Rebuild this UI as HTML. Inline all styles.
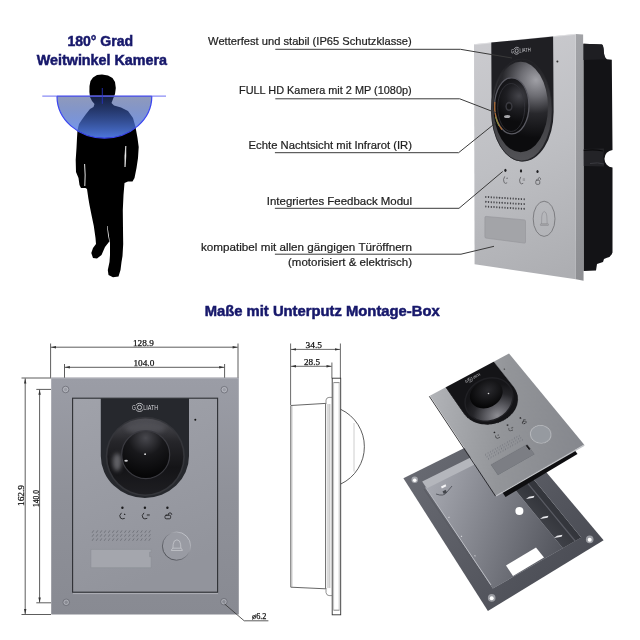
<!DOCTYPE html>
<html><head><meta charset="utf-8"><style>
html,body{margin:0;padding:0;background:#fff;width:640px;height:640px;overflow:hidden;position:relative}
svg{display:block;will-change:transform}
text{font-family:"Liberation Sans",sans-serif}
.lbl{font-size:11.4px;fill:#1e1e1e;stroke:#1e1e1e;stroke-width:0.22px}
.ttl{font-size:14px;font-weight:bold;fill:#17186b;stroke:#17186b;stroke-width:0.5px}
.dimt text{font-family:"Liberation Serif",serif;font-size:9.2px;fill:#111;stroke:#111;stroke-width:0.25px}
</style></head><body>
<svg width="640" height="640" viewBox="0 0 640 640">
<defs>
<linearGradient id="semi" x1="0" y1="96" x2="0" y2="138" gradientUnits="userSpaceOnUse">
<stop offset="0" stop-color="#2a3f80" stop-opacity="0.52"/>
<stop offset="1" stop-color="#5a8aff" stop-opacity="0.86"/>
</linearGradient>
<linearGradient id="face1" x1="474" y1="40" x2="576" y2="270" gradientUnits="userSpaceOnUse">
<stop offset="0" stop-color="#cbcbcf"/>
<stop offset="0.5" stop-color="#bebfc3"/>
<stop offset="1" stop-color="#adaeb2"/>
</linearGradient>
<linearGradient id="side1" x1="0" y1="34" x2="0" y2="280" gradientUnits="userSpaceOnUse">
<stop offset="0" stop-color="#a2a3a7"/>
<stop offset="1" stop-color="#8e8f93"/>
</linearGradient>
<radialGradient id="dome1" cx="536" cy="80" r="58" gradientUnits="userSpaceOnUse">
<stop offset="0" stop-color="#a0a0a6"/>
<stop offset="0.28" stop-color="#6c6c72"/>
<stop offset="0.58" stop-color="#28282c"/>
<stop offset="1" stop-color="#0c0c0e"/>
</radialGradient>
<linearGradient id="ring1" x1="0" y1="60" x2="0" y2="161" gradientUnits="userSpaceOnUse">
<stop offset="0" stop-color="#1f1f23"/>
<stop offset="0.35" stop-color="#36363a"/>
<stop offset="1" stop-color="#525256"/>
</linearGradient>
<radialGradient id="lens1" cx="519" cy="96" r="26" gradientUnits="userSpaceOnUse">
<stop offset="0" stop-color="#44444a"/>
<stop offset="0.5" stop-color="#1e1e22"/>
<stop offset="1" stop-color="#0c0c0e"/>
</radialGradient>
<linearGradient id="plate2" x1="0" y1="378" x2="0" y2="615" gradientUnits="userSpaceOnUse">
<stop offset="0" stop-color="#9b9da6"/>
<stop offset="0.5" stop-color="#8f9199"/>
<stop offset="1" stop-color="#888a92"/>
</linearGradient>
<linearGradient id="panel2" x1="0" y1="0" x2="0.3" y2="1">
<stop offset="0" stop-color="#a0a2aa"/>
<stop offset="1" stop-color="#92949c"/>
</linearGradient>
<linearGradient id="dome2v" x1="0" y1="0" x2="0" y2="1">
<stop offset="0" stop-color="#4e4e54"/>
<stop offset="0.3" stop-color="#26262a"/>
<stop offset="0.65" stop-color="#141417"/>
<stop offset="1" stop-color="#1e1e22"/>
</linearGradient>
<filter id="blur2" x="-50%" y="-50%" width="200%" height="200%"><feGaussianBlur stdDeviation="2"/></filter>
<radialGradient id="dome2" cx="0.35" cy="0.6" r="0.6">
<stop offset="0" stop-color="#3c3c42"/>
<stop offset="0.45" stop-color="#26262b"/>
<stop offset="0.8" stop-color="#101013"/>
<stop offset="1" stop-color="#0c0c0e"/>
</radialGradient>
<radialGradient id="lens2" cx="0.5" cy="0.15" r="0.8">
<stop offset="0" stop-color="#48484e"/>
<stop offset="0.45" stop-color="#18181b"/>
<stop offset="1" stop-color="#060607"/>
</radialGradient>
<linearGradient id="face3" x1="0" y1="0" x2="1" y2="1">
<stop offset="0" stop-color="#b2b4b8"/>
<stop offset="0.5" stop-color="#939599"/>
<stop offset="1" stop-color="#85878d"/>
</linearGradient>
<radialGradient id="skirt3" cx="0.5" cy="0.95" r="0.75">
<stop offset="0" stop-color="#8c8c92"/>
<stop offset="0.35" stop-color="#5a5a60"/>
<stop offset="0.7" stop-color="#26262a"/>
<stop offset="1" stop-color="#151518"/>
</radialGradient>
<radialGradient id="lens3" cx="0.6" cy="0.4" r="0.6">
<stop offset="0" stop-color="#2a2a2e"/>
<stop offset="1" stop-color="#060607"/>
</radialGradient>
<linearGradient id="bellring" x1="0.15" y1="0.85" x2="0.85" y2="0.15">
<stop offset="0" stop-color="#4a4c52"/>
<stop offset="0.5" stop-color="#7a7c84"/>
<stop offset="1" stop-color="#c4c6cc"/>
</linearGradient>
<g id="logo">
<text x="59.3" y="11.5" font-size="6.6" style="fill:#d4d4d8" textLength="3.9" lengthAdjust="spacingAndGlyphs">G</text>
<g fill="none" stroke="#d4d4d8" stroke-width="0.85">
<circle cx="66.9" cy="9.2" r="2.1"/>
<path d="M63.4 7 A4.2 4.2 0 0 1 70.4 7"/>
<path d="M63.4 11.4 A4.2 4.2 0 0 0 70.4 11.4"/>
</g>
<text x="70.6" y="11.5" font-size="6.6" style="fill:#d4d4d8" textLength="15" lengthAdjust="spacingAndGlyphs">LIATH</text>
</g>
<g id="icons"><g fill="none" style="stroke:var(--ic,#1e1e20)" stroke-width="0.85" stroke-linecap="round">
<path d="M48.6 114.9 Q45.9 117.4 47.9 119.9 Q49.4 121.3 51.8 120.3"/>
<path d="M71.1 114.9 Q68.4 117.4 70.4 119.9 Q71.9 121.3 74.3 120.3"/>
<path d="M74.6 116.3 h2.2 M74.6 117.4 h2.2" stroke-width="0.5"/>
<rect x="92.4" y="117" width="5.6" height="3.6" rx="1.2"/>
<path d="M95.4 117 Q95.4 114.6 97.4 114.6 Q99.2 114.8 99.2 116.2"/>
</g>
<path d="M51.2 116.9 l0.9 -1.9 l0.9 1.9 Z" style="fill:var(--ic,#1e1e20)"/></g>
<g id="devface">
<path d="M28.2 0 L116.4 0 L116.4 57.7 A44.1 42 0 0 1 28.2 57.7 Z" style="fill:var(--hous,#26282d)"/>
<use href="#logo"/>
<circle cx="122.7" cy="21.6" r="1" fill="#111"/>
<g fill="#1a1a1c"><circle cx="49.8" cy="109.5" r="1.2"/><circle cx="72.3" cy="109.5" r="1.2"/><circle cx="94.8" cy="109.5" r="1.2"/></g>
<use href="#icons"/>
<g id="spk2"><path d="M19.5 134.6 l1.6 -2.4" stroke="#6e7078" stroke-width="0.9"/><path d="M23.6 134.6 l1.6 -2.4" stroke="#6e7078" stroke-width="0.9"/><path d="M27.6 134.6 l1.6 -2.4" stroke="#6e7078" stroke-width="0.9"/><path d="M31.6 134.6 l1.6 -2.4" stroke="#6e7078" stroke-width="0.9"/><path d="M35.7 134.6 l1.6 -2.4" stroke="#6e7078" stroke-width="0.9"/><path d="M39.8 134.6 l1.6 -2.4" stroke="#6e7078" stroke-width="0.9"/><path d="M43.8 134.6 l1.6 -2.4" stroke="#6e7078" stroke-width="0.9"/><path d="M47.8 134.6 l1.6 -2.4" stroke="#6e7078" stroke-width="0.9"/><path d="M51.9 134.6 l1.6 -2.4" stroke="#6e7078" stroke-width="0.9"/><path d="M55.9 134.6 l1.6 -2.4" stroke="#6e7078" stroke-width="0.9"/><path d="M60.0 134.6 l1.6 -2.4" stroke="#6e7078" stroke-width="0.9"/><path d="M64.0 134.6 l1.6 -2.4" stroke="#6e7078" stroke-width="0.9"/><path d="M68.1 134.6 l1.6 -2.4" stroke="#6e7078" stroke-width="0.9"/><path d="M72.2 134.6 l1.6 -2.4" stroke="#6e7078" stroke-width="0.9"/><path d="M76.2 134.6 l1.6 -2.4" stroke="#6e7078" stroke-width="0.9"/><path d="M19.5 138.5 l1.6 -2.4" stroke="#6e7078" stroke-width="0.9"/><path d="M23.6 138.5 l1.6 -2.4" stroke="#6e7078" stroke-width="0.9"/><path d="M27.6 138.5 l1.6 -2.4" stroke="#6e7078" stroke-width="0.9"/><path d="M31.6 138.5 l1.6 -2.4" stroke="#6e7078" stroke-width="0.9"/><path d="M35.7 138.5 l1.6 -2.4" stroke="#6e7078" stroke-width="0.9"/><path d="M39.8 138.5 l1.6 -2.4" stroke="#6e7078" stroke-width="0.9"/><path d="M43.8 138.5 l1.6 -2.4" stroke="#6e7078" stroke-width="0.9"/><path d="M47.8 138.5 l1.6 -2.4" stroke="#6e7078" stroke-width="0.9"/><path d="M51.9 138.5 l1.6 -2.4" stroke="#6e7078" stroke-width="0.9"/><path d="M55.9 138.5 l1.6 -2.4" stroke="#6e7078" stroke-width="0.9"/><path d="M60.0 138.5 l1.6 -2.4" stroke="#6e7078" stroke-width="0.9"/><path d="M64.0 138.5 l1.6 -2.4" stroke="#6e7078" stroke-width="0.9"/><path d="M68.1 138.5 l1.6 -2.4" stroke="#6e7078" stroke-width="0.9"/><path d="M72.2 138.5 l1.6 -2.4" stroke="#6e7078" stroke-width="0.9"/><path d="M76.2 138.5 l1.6 -2.4" stroke="#6e7078" stroke-width="0.9"/><path d="M19.5 142.6 l1.6 -2.4" stroke="#6e7078" stroke-width="0.9"/><path d="M23.6 142.6 l1.6 -2.4" stroke="#6e7078" stroke-width="0.9"/><path d="M27.6 142.6 l1.6 -2.4" stroke="#6e7078" stroke-width="0.9"/><path d="M31.6 142.6 l1.6 -2.4" stroke="#6e7078" stroke-width="0.9"/><path d="M35.7 142.6 l1.6 -2.4" stroke="#6e7078" stroke-width="0.9"/><path d="M39.8 142.6 l1.6 -2.4" stroke="#6e7078" stroke-width="0.9"/><path d="M43.8 142.6 l1.6 -2.4" stroke="#6e7078" stroke-width="0.9"/><path d="M47.8 142.6 l1.6 -2.4" stroke="#6e7078" stroke-width="0.9"/><path d="M51.9 142.6 l1.6 -2.4" stroke="#6e7078" stroke-width="0.9"/><path d="M55.9 142.6 l1.6 -2.4" stroke="#6e7078" stroke-width="0.9"/><path d="M60.0 142.6 l1.6 -2.4" stroke="#6e7078" stroke-width="0.9"/><path d="M64.0 142.6 l1.6 -2.4" stroke="#6e7078" stroke-width="0.9"/><path d="M68.1 142.6 l1.6 -2.4" stroke="#6e7078" stroke-width="0.9"/><path d="M72.2 142.6 l1.6 -2.4" stroke="#6e7078" stroke-width="0.9"/><path d="M76.2 142.6 l1.6 -2.4" stroke="#6e7078" stroke-width="0.9"/></g>
<path d="M18.3 151.2 H78.6 V154 H77 V158.5 H78.6 V169.5 H18.3 Z" fill="#a4a6ad" stroke="#8c8e95" stroke-width="0.6"/>
<circle cx="103.9" cy="147.9" r="14.1" fill="#999ba3" stroke="url(#bellring)" stroke-width="0.9"/>
<path d="M100.3 150 L100.6 146 Q101 141.8 104.3 141.6 Q107.6 141.8 108 146 L108.3 150 Q109.6 150.6 109.8 152.3 L98.8 152.3 Q99 150.6 100.3 150 Z M100.3 150 L108.3 150" fill="none" stroke="#cfd1d5" stroke-width="0.65"/>
</g>
</defs>

<!-- ===== Title top-left ===== -->
<text class="ttl" x="100.3" y="46" text-anchor="middle" textLength="65.7" lengthAdjust="spacingAndGlyphs">180° Grad</text>
<text class="ttl" x="101.9" y="64.6" text-anchor="middle" textLength="130.2" lengthAdjust="spacingAndGlyphs">Weitwinkel Kamera</text>

<!-- ===== Silhouette ===== -->
<path id="person" fill="#000" d="M102 74.5 L108 75.5 L112.5 78 L115 82 L115.8 88 L115 94 L113 99 L111.5 103 L114 105.5 L121 107.5 L128 111 L133 118 L135.5 127 L137.5 138 L138.7 147 L138 158 L136.5 168 L134.5 178 L132.5 181.5 L128 181.5 L124.5 183 L123.5 195 L122.8 210 L123 230 L123.2 244 L122.5 256 L121.5 262 L120.5 270 L118.5 276.5 L113 277.3 L108.5 275 L107.8 270 L109.5 262 L110 255 L110 243 L108.5 233 L107.5 226 L107 226 L108 235 L109.3 241.5 L105 247 L101.5 255 L97 258.5 L93 258 L91.3 253 L93 248 L96 244 L95.5 238 L93.8 226 L91.5 215 L89.5 205 L88.3 198 L87 189 L85.5 188 L81 188 L79.5 185 L78.5 178 L76 172 L75.7 160 L76.5 148 L77 138 L77.5 130 L79 124 L82 119.5 L86 114 L90 109 L93.5 107 L94.5 104 L92 101 L90 97 L89.4 92 L89.5 86 L90.5 81 L93 77.5 L97 75 Z"/>

<path d="M84.6 164 Q85.6 175 84.8 186" fill="none" stroke="#fff" stroke-width="0.9"/>
<path d="M125.8 146 Q124.3 156 125 167 Q126.3 156 125.8 146 Z" fill="#fff" stroke="#fff" stroke-width="0.6"/>
<!-- semicircle -->
<line x1="42.3" y1="96.1" x2="166" y2="96.1" stroke="#8a8cf5" stroke-width="1.4"/>
<path d="M57 96.2 A47.4 41.9 0 0 0 151.8 96.2 Z" fill="url(#semi)"/>
<path d="M57 96.2 A47.4 41.9 0 0 0 151.8 96.2" fill="none" stroke="#3a45f0" stroke-width="1.2"/>
<line x1="57" y1="96.2" x2="151.8" y2="96.2" stroke="#4a50e8" stroke-width="1"/>
<line x1="102.3" y1="88" x2="102.3" y2="103.8" stroke="#2a35d0" stroke-width="0.8"/>

<!-- ===== Annotation labels ===== -->
<g class="lbl">
<text class="lbl" x="411.7" y="45" text-anchor="end" textLength="203.6" lengthAdjust="spacingAndGlyphs">Wetterfest und stabil (IP65 Schutzklasse)</text>
<text class="lbl" x="411.7" y="93.6" text-anchor="end" textLength="172.7" lengthAdjust="spacingAndGlyphs">FULL HD Kamera mit 2 MP (1080p)</text>
<text class="lbl" x="412" y="148.5" text-anchor="end" textLength="163.4" lengthAdjust="spacingAndGlyphs">Echte Nachtsicht mit Infrarot (IR)</text>
<text class="lbl" x="412" y="205.4" text-anchor="end" textLength="145.2" lengthAdjust="spacingAndGlyphs">Integriertes Feedback Modul</text>
<text class="lbl" x="412" y="250.8" text-anchor="end" textLength="211" lengthAdjust="spacingAndGlyphs">kompatibel mit allen gängigen Türöffnern</text>
<text class="lbl" x="412" y="265.5" text-anchor="end" textLength="124" lengthAdjust="spacingAndGlyphs">(motorisiert &amp; elektrisch)</text>
</g>


<!-- ===== Top-right device ===== -->
<g id="dev1">
<!-- black module -->
<path d="M583.4 43.8 L602 44.5 Q603.5 45 603.8 52 Q604.5 58.5 607 59.2 L611.8 59.7 L612.5 150 A9 8.8 0 0 0 612.5 167.5 L612.5 252.5 Q611 257 607 257.8 L604 259 L603 262 L597 264 L596 270.5 L583.5 271 Z" fill="#131316"/>
<path d="M583.4 43.8 L602 44.5 Q603.5 45 603.8 52 Q604.5 58.5 607 59.2 L583.4 60 Z" fill="#1e1e22"/>
<path d="M583.6 149 L604 148.5 Q602.5 157.5 604 166.5 L583.6 166 Z" fill="#232327"/>
<path d="M583.6 150.5 Q594 149 603 151" fill="none" stroke="#0a0a0c" stroke-width="1.2"/>
<path d="M590 163.5 Q598 162 604 164" fill="none" stroke="#3a3a40" stroke-width="1"/>
<!-- side strip -->
<polygon points="575.6,34 583.1,34.6 583.6,280.8 575.9,279.3" fill="url(#side1)"/>
<!-- face -->
<polygon points="474,44.3 575.6,34 575.9,279.3 474.6,264.2" fill="url(#face1)"/>
<line x1="474.2" y1="44.6" x2="575.6" y2="34.3" stroke="#e2e2e4" stroke-width="0.8"/>
<!-- housing -->
<path d="M491.3 42.6 L553.1 36.4 L553.6 112 A31 49.5 0 0 1 491.6 112 Z" fill="#1f1f23"/>
<ellipse cx="521.8" cy="110" rx="30.4" ry="51" fill="url(#ring1)" stroke="#26262a" stroke-width="0.8"/>
<ellipse cx="520.7" cy="107" rx="27.3" ry="45.3" fill="url(#dome1)"/>
<ellipse cx="511.8" cy="105.8" rx="17.2" ry="28" fill="url(#lens1)" stroke="#5a5a62" stroke-width="1.3"/>
<path d="M494.8 102 A17.2 28 0 0 0 502 129.5" fill="none" stroke="#b06a30" stroke-width="1.2"/>
<path d="M495.6 117 A17.2 28 0 0 0 499 126" fill="none" stroke="#7aa050" stroke-width="0.8"/>
<ellipse cx="511.2" cy="107.5" rx="13.5" ry="24" fill="none" stroke="#34343a" stroke-width="0.8"/>
<ellipse cx="509" cy="106.4" rx="3.6" ry="4.6" fill="#3a3a40"/>
<ellipse cx="509" cy="106.4" rx="2.2" ry="3" fill="#141416"/>
<ellipse cx="507.2" cy="116.5" rx="3.2" ry="1.6" fill="#d8d8dc" opacity="0.75"/>
<use href="#logo" transform="matrix(0.75,-0.07,0,0.85,466.5,47.6)"/>
<circle cx="557.4" cy="61.6" r="1" fill="#333"/>
<!-- LEDs -->
<g fill="#1e1e20"><ellipse cx="505.4" cy="170.3" rx="1.1" ry="1.6"/><ellipse cx="521" cy="170.9" rx="1.1" ry="1.6"/><ellipse cx="537.5" cy="171.5" rx="1.1" ry="1.6"/></g>
<use href="#icons" transform="matrix(0.713,0.0222,0,1.15,469.9,43.5)" style="--ic:#5a5a5e"/>
<!-- speaker -->
<g fill="#46464a" id="spk1"><rect x="485.2" y="195.9" width="1.2" height="2.0" rx="0.4"/><rect x="487.9" y="196.1" width="1.2" height="2.0" rx="0.4"/><rect x="490.7" y="196.3" width="1.2" height="2.0" rx="0.4"/><rect x="493.4" y="196.4" width="1.2" height="2.0" rx="0.4"/><rect x="496.2" y="196.6" width="1.2" height="2.0" rx="0.4"/><rect x="498.9" y="196.8" width="1.2" height="2.0" rx="0.4"/><rect x="501.6" y="196.9" width="1.2" height="2.0" rx="0.4"/><rect x="504.4" y="197.1" width="1.2" height="2.0" rx="0.4"/><rect x="507.1" y="197.3" width="1.2" height="2.0" rx="0.4"/><rect x="509.9" y="197.4" width="1.2" height="2.0" rx="0.4"/><rect x="512.6" y="197.6" width="1.2" height="2.0" rx="0.4"/><rect x="515.3" y="197.8" width="1.2" height="2.0" rx="0.4"/><rect x="518.1" y="197.9" width="1.2" height="2.0" rx="0.4"/><rect x="520.8" y="198.1" width="1.2" height="2.0" rx="0.4"/><rect x="523.6" y="198.2" width="1.2" height="2.0" rx="0.4"/><rect x="485.2" y="200.8" width="1.2" height="2.0" rx="0.4"/><rect x="487.9" y="201.0" width="1.2" height="2.0" rx="0.4"/><rect x="490.7" y="201.2" width="1.2" height="2.0" rx="0.4"/><rect x="493.4" y="201.3" width="1.2" height="2.0" rx="0.4"/><rect x="496.2" y="201.5" width="1.2" height="2.0" rx="0.4"/><rect x="498.9" y="201.7" width="1.2" height="2.0" rx="0.4"/><rect x="501.6" y="201.8" width="1.2" height="2.0" rx="0.4"/><rect x="504.4" y="202.0" width="1.2" height="2.0" rx="0.4"/><rect x="507.1" y="202.2" width="1.2" height="2.0" rx="0.4"/><rect x="509.9" y="202.3" width="1.2" height="2.0" rx="0.4"/><rect x="512.6" y="202.5" width="1.2" height="2.0" rx="0.4"/><rect x="515.3" y="202.7" width="1.2" height="2.0" rx="0.4"/><rect x="518.1" y="202.8" width="1.2" height="2.0" rx="0.4"/><rect x="520.8" y="203.0" width="1.2" height="2.0" rx="0.4"/><rect x="523.6" y="203.1" width="1.2" height="2.0" rx="0.4"/><rect x="485.2" y="205.5" width="1.2" height="2.0" rx="0.4"/><rect x="487.9" y="205.7" width="1.2" height="2.0" rx="0.4"/><rect x="490.7" y="205.9" width="1.2" height="2.0" rx="0.4"/><rect x="493.4" y="206.0" width="1.2" height="2.0" rx="0.4"/><rect x="496.2" y="206.2" width="1.2" height="2.0" rx="0.4"/><rect x="498.9" y="206.4" width="1.2" height="2.0" rx="0.4"/><rect x="501.6" y="206.5" width="1.2" height="2.0" rx="0.4"/><rect x="504.4" y="206.7" width="1.2" height="2.0" rx="0.4"/><rect x="507.1" y="206.9" width="1.2" height="2.0" rx="0.4"/><rect x="509.9" y="207.0" width="1.2" height="2.0" rx="0.4"/><rect x="512.6" y="207.2" width="1.2" height="2.0" rx="0.4"/><rect x="515.3" y="207.4" width="1.2" height="2.0" rx="0.4"/><rect x="518.1" y="207.5" width="1.2" height="2.0" rx="0.4"/><rect x="520.8" y="207.7" width="1.2" height="2.0" rx="0.4"/><rect x="523.6" y="207.8" width="1.2" height="2.0" rx="0.4"/></g>
<!-- name plate -->
<path d="M486 216.4 L524.4 219.9 Q525.5 220 525.5 221.2 L525.5 242 Q525.5 243.2 524.4 243.1 L486 238.1 Q484.9 238 484.9 236.8 L484.9 217.5 Q484.9 216.3 486 216.4 Z" fill="#a3a4a8" stroke="#939498" stroke-width="0.6"/>
<!-- bell -->
<ellipse cx="544.1" cy="218.8" rx="10.9" ry="17.6" fill="none" stroke="#727276" stroke-width="0.85"/>
<path d="M541.5 224 L541.8 216 Q542 212 544.3 211.5 Q546.6 212 546.8 216 L547.2 224 Z M540.3 224 L548.5 224 L548.2 225.5 L540.6 225.5 Z" fill="none" stroke="#8a8a8e" stroke-width="0.6"/>
</g>

<g fill="none" stroke="#3a3a3a" stroke-width="1">
<polyline points="275.3,49.3 460.5,49.3 512,58"/>
<polyline points="275.3,98.8 459.7,98.8 496,112.8"/>
<polyline points="274.9,152.7 458.6,152.7 496,122.6"/>
<polyline points="274.9,208.3 459,208.3 502.7,171.5"/>
<polyline points="274.9,254.2 461,254.2 494,246.3"/>
</g>
<!-- ===== Middle title ===== -->
<text class="ttl" x="204.7" y="315.8" textLength="235" lengthAdjust="spacingAndGlyphs">Maße mit Unterputz Montage-Box</text>

<!-- ===== Front view drawing ===== -->
<g id="front">
<rect x="51.2" y="377.6" width="187.6" height="236.9" fill="url(#plate2)"/>
<line x1="51.2" y1="378.1" x2="238.8" y2="378.1" stroke="#b4b6bd" stroke-width="1"/>
<g fill="none" stroke="#6e7078" stroke-width="0.8">
<circle cx="65.6" cy="389.5" r="3.3"/><circle cx="224.3" cy="389.7" r="3.3"/>
<circle cx="66.2" cy="602.3" r="3.3"/><circle cx="223.9" cy="601.7" r="3.3"/>
</g>
<g fill="none" stroke="#c4c6cc" stroke-width="0.6">
<circle cx="65.6" cy="389.5" r="2.2"/><circle cx="224.3" cy="389.7" r="2.2"/>
<circle cx="66.2" cy="602.3" r="2.2"/><circle cx="223.9" cy="601.7" r="2.2"/>
</g>
<rect x="72.6" y="398.2" width="145" height="194" fill="url(#panel2)"/>
<use href="#devface" transform="translate(72.6,398.2)"/>
<g id="dome2g" transform="translate(72.6,398.2)">
<circle cx="72.7" cy="58.2" r="39.6" fill="#34353a"/>
<circle cx="72.7" cy="58.2" r="38" fill="url(#dome2v)"/>
<ellipse cx="44.5" cy="64" rx="4.5" ry="9" fill="#7a7a80" opacity="0.75" filter="url(#blur2)"/>
<ellipse cx="73" cy="30" rx="20" ry="6" fill="#5a5a60" opacity="0.6" filter="url(#blur2)"/>
<circle cx="73.1" cy="56.5" r="24" fill="url(#lens2)" stroke="#3a3a40" stroke-width="1.2"/>
<circle cx="72.5" cy="56" r="0.9" fill="#e8e8e8"/>
<ellipse cx="53.5" cy="62.5" rx="1.8" ry="1" fill="#e0e0e4" opacity="0.9"/>
</g>
<rect x="72.6" y="398.2" width="145" height="194" fill="none" stroke="#2e3034" stroke-width="1.1"/>
<line x1="73" y1="593.6" x2="218" y2="593.6" stroke="#b2b4ba" stroke-width="0.9"/>
</g>
<!-- dimensions front -->
<g fill="none" stroke="#333" stroke-width="0.8">
<line x1="50.6" y1="343.5" x2="50.6" y2="377.7"/><line x1="238" y1="343.5" x2="238" y2="377.7"/>
<line x1="51" y1="347.2" x2="237.6" y2="347.2"/>
<line x1="64.5" y1="364" x2="64.5" y2="377.7"/><line x1="224.6" y1="364" x2="224.6" y2="377.7"/>
<line x1="64.9" y1="367.3" x2="224.2" y2="367.3"/>
<line x1="21.5" y1="378" x2="51" y2="378"/><line x1="21.5" y1="614.5" x2="51" y2="614.5"/>
<line x1="25.2" y1="378.4" x2="25.2" y2="614.1"/>
<line x1="36.3" y1="389.4" x2="51" y2="389.4"/><line x1="36.3" y1="602.8" x2="51" y2="602.8"/>
<line x1="39.6" y1="389.8" x2="39.6" y2="602.4"/>
<polyline points="224.6,604 244.2,620.8 268.4,620.8"/>
</g>
<g fill="#333">
<path d="M51 347.2 l5 -1.2 l0 2.4 Z"/><path d="M237.6 347.2 l-5 -1.2 l0 2.4 Z"/>
<path d="M64.9 367.3 l5 -1.2 l0 2.4 Z"/><path d="M224.2 367.3 l-5 -1.2 l0 2.4 Z"/>
<path d="M25.2 378.4 l-1.2 5 l2.4 0 Z"/><path d="M25.2 614.1 l-1.2 -5 l2.4 0 Z"/>
<path d="M39.6 389.8 l-1.2 5 l2.4 0 Z"/><path d="M39.6 602.4 l-1.2 -5 l2.4 0 Z"/>
</g>
<g class="dimt">
<text x="133" y="346.2" textLength="20.8" lengthAdjust="spacingAndGlyphs">128.9</text>
<text x="133.5" y="365.9" textLength="20.8" lengthAdjust="spacingAndGlyphs">104.0</text>
<text transform="translate(24.3,506) rotate(-90)" textLength="21" lengthAdjust="spacingAndGlyphs">162.9</text>
<text transform="translate(39.4,507) rotate(-90)" textLength="17" lengthAdjust="spacingAndGlyphs">140.0</text>
<text x="252" y="619.3" textLength="14.5" lengthAdjust="spacingAndGlyphs">ø6.2</text>
</g>

<!-- ===== Side view ===== -->
<g fill="none" stroke="#444" stroke-width="0.8">
<line x1="290.6" y1="343.5" x2="290.6" y2="405"/>
<line x1="340.4" y1="343.5" x2="340.4" y2="378.3"/>
<line x1="291" y1="349.4" x2="340" y2="349.4"/>
<line x1="331.9" y1="362.5" x2="331.9" y2="378.3"/>
<line x1="291" y1="366.3" x2="331.5" y2="366.3"/>
</g>
<g fill="#333">
<path d="M291 349.4 l5 -1.2 l0 2.4 Z"/><path d="M340 349.4 l-5 -1.2 l0 2.4 Z"/>
<path d="M291 366.3 l5 -1.2 l0 2.4 Z"/><path d="M331.5 366.3 l-5 -1.2 l0 2.4 Z"/>
</g>
<g class="dimt">
<text x="305.5" y="348.3" textLength="16.5" lengthAdjust="spacingAndGlyphs">34.5</text>
<text x="304" y="365.3" textLength="16" lengthAdjust="spacingAndGlyphs">28.5</text>
</g>
<g fill="none">
<!-- front plate -->
<rect x="332.2" y="378.2" width="8.5" height="236.6" stroke="#333" stroke-width="0.9"/>
<line x1="333.5" y1="382.6" x2="339.5" y2="382.6" stroke="#555" stroke-width="0.7"/>
<line x1="333.5" y1="610.2" x2="339.5" y2="610.2" stroke="#555" stroke-width="0.7"/>
<line x1="333.6" y1="382.6" x2="333.6" y2="610.2" stroke="#999" stroke-width="0.6"/>
<line x1="339.2" y1="382.6" x2="339.2" y2="610.2" stroke="#999" stroke-width="0.6"/>
<!-- box -->
<path d="M290.8 405.5 L325.6 403.4 L325.6 588.8 L290.8 587.2 Z" stroke="#555" stroke-width="0.9"/>
<line x1="292" y1="406" x2="292" y2="587" stroke="#aaa" stroke-width="0.6"/>
<line x1="328" y1="404" x2="328" y2="588" stroke="#888" stroke-width="0.6"/>
<line x1="329.8" y1="404" x2="329.8" y2="588" stroke="#888" stroke-width="0.6"/>
<path d="M326 404 L326 400 Q326.5 397.4 329 397.4 L332 397.4" stroke="#666" stroke-width="0.7"/>
<path d="M326 588 L326 592.5 Q326.5 595.5 329 595.6 L332 595.6" stroke="#666" stroke-width="0.7"/>
<!-- dome -->
<path d="M340.8 409.4 A41.3 41.3 0 0 1 340.8 484" stroke="#333" stroke-width="0.8"/>
<line x1="354" y1="423" x2="354" y2="471.5" stroke="#c8c8c8" stroke-width="0.9"/>
</g>

<!-- ===== Exploded view: mounting box ===== -->
<defs>
<linearGradient id="flange3" x1="403" y1="478" x2="560" y2="600" gradientUnits="userSpaceOnUse">
<stop offset="0" stop-color="#686a72"/>
<stop offset="1" stop-color="#4a4c54"/>
</linearGradient>
<linearGradient id="floor3" x1="428" y1="495" x2="572" y2="545" gradientUnits="userSpaceOnUse">
<stop offset="0" stop-color="#a4a6ae"/>
<stop offset="0.45" stop-color="#7e8088"/>
<stop offset="1" stop-color="#4e5058"/>
</linearGradient>
<linearGradient id="wall3" x1="560" y1="520" x2="540" y2="540" gradientUnits="userSpaceOnUse">
<stop offset="0" stop-color="#34363c"/>
<stop offset="1" stop-color="#45474e"/>
</linearGradient>
<clipPath id="openclip"><polygon points="422.2,481.6 502.8,441.5 581.3,537.5 492.8,588.6"/></clipPath>
</defs>
<polygon points="403.4,478.2 507.7,426.4 603.6,540.2 487.9,611" fill="url(#flange3)"/>
<polygon points="422.2,481.6 502.8,441.5 581.3,537.5 492.8,588.6" fill="#b4b6bc"/>
<g clip-path="url(#openclip)">
<polygon points="502.8,441.5 581.3,537.5 567.2,553.5 488.7,457.5" fill="url(#wall3)"/>
<line x1="498" y1="447" x2="575.5" y2="541.5" stroke="#5a5c64" stroke-width="1.2"/>
<polygon points="408.1,497.6 488.7,457.5 567.2,553.5 478.7,604.6" fill="url(#floor3)"/>
</g>
<line x1="425.6" y1="487.5" x2="491" y2="585" stroke="#c0c2c8" stroke-width="0.9"/>
<line x1="424" y1="489" x2="489.5" y2="586.5" stroke="#55575e" stroke-width="0.6"/>
<g fill="#e8e8ec">
<path d="M448 517.5 l1.2 -1 l0.4 1.5 Z"/><path d="M460.6 536.4 l1.2 -1 l0.4 1.5 Z"/><path d="M474 556 l1.2 -1 l0.4 1.5 Z"/>
<path d="M526 499 l3 -2.2 l5.5 -1 l-1 2 Z"/><path d="M540 519 l3 -2.2 l5.5 -1 l-1 2 Z"/><path d="M554 538 l3 -2.2 l5.5 -1 l-1 2 Z"/>
</g>
<polygon points="441,486.5 445.5,484.3 446.3,486.3 441.8,488.5" fill="#f4f4f6"/>
<path d="M436 494 Q444 497 447 492 L452 486" fill="none" stroke="#50525a" stroke-width="0.9"/>
<rect x="443" y="490.5" width="3.5" height="3" fill="#44464c" transform="rotate(-27 444.7 492)"/>
<polygon points="506,565.5 536,547.5 544,557.5 513,576" fill="#fff"/>
<circle cx="519.4" cy="510.9" r="4" fill="#fff"/>
<g>
<circle cx="414.7" cy="479.7" r="3.2" fill="#a8aab0"/><circle cx="414.7" cy="480.3" r="1.8" fill="#fff"/>
<circle cx="491.7" cy="597.9" r="3.8" fill="#9a9ca2"/><circle cx="491.7" cy="598.3" r="2" fill="#fff"/>
<circle cx="589.7" cy="539.4" r="3.8" fill="#9a9ca2"/><circle cx="589.7" cy="539.8" r="2" fill="#fff"/>
</g>
<!-- device back -->
<polygon points="440,404 509,360 577.5,454 505.6,497" fill="#0e0e10"/>

</svg>
<div style="position:absolute;left:0;top:0;width:145px;height:194px;transform-origin:0 0;transform:matrix3d(0.63631332,-0.22734758,0,0.00017728571,0.021417284,0.19519481,0,-0.00064417029,0,0,1,0,429.84839,395.66893,0,1)">
<svg width="145" height="194" viewBox="0 0 145 194">
<rect x="0" y="0" width="145" height="194" fill="url(#face3)"/>
<use href="#devface" style="--hous:#141417"/>
<rect x="18.3" y="151.2" width="60.3" height="18.3" fill="#7c7e84" stroke="#6c6e74" stroke-width="0.6"/>
<rect x="76" y="152" width="2.4" height="8" fill="#1a1a1c"/>
<circle cx="104" cy="147.8" r="14.5" fill="#969aa0" stroke="#b8babe" stroke-width="1.2"/>
</svg>
</div>
<svg style="position:absolute;left:0;top:0" width="640" height="640" viewBox="0 0 640 640">
<line x1="584.3" y1="445.2" x2="496" y2="496" stroke="#c2c4c8" stroke-width="1.4"/>
<line x1="429.3" y1="396.3" x2="495.5" y2="496.1" stroke="#222226" stroke-width="0.9"/>
<g transform="rotate(-27 489 399.5)">
<ellipse cx="489" cy="399.5" rx="25.5" ry="21.5" fill="#202024"/>
<ellipse cx="489" cy="399.5" rx="24" ry="20.2" fill="url(#skirt3)"/>
<ellipse cx="489" cy="393.5" rx="17" ry="13.5" fill="url(#lens3)"/>
</g>
<circle cx="488.5" cy="393.5" r="0.8" fill="#ddd"/>
</svg>
</body></html>
